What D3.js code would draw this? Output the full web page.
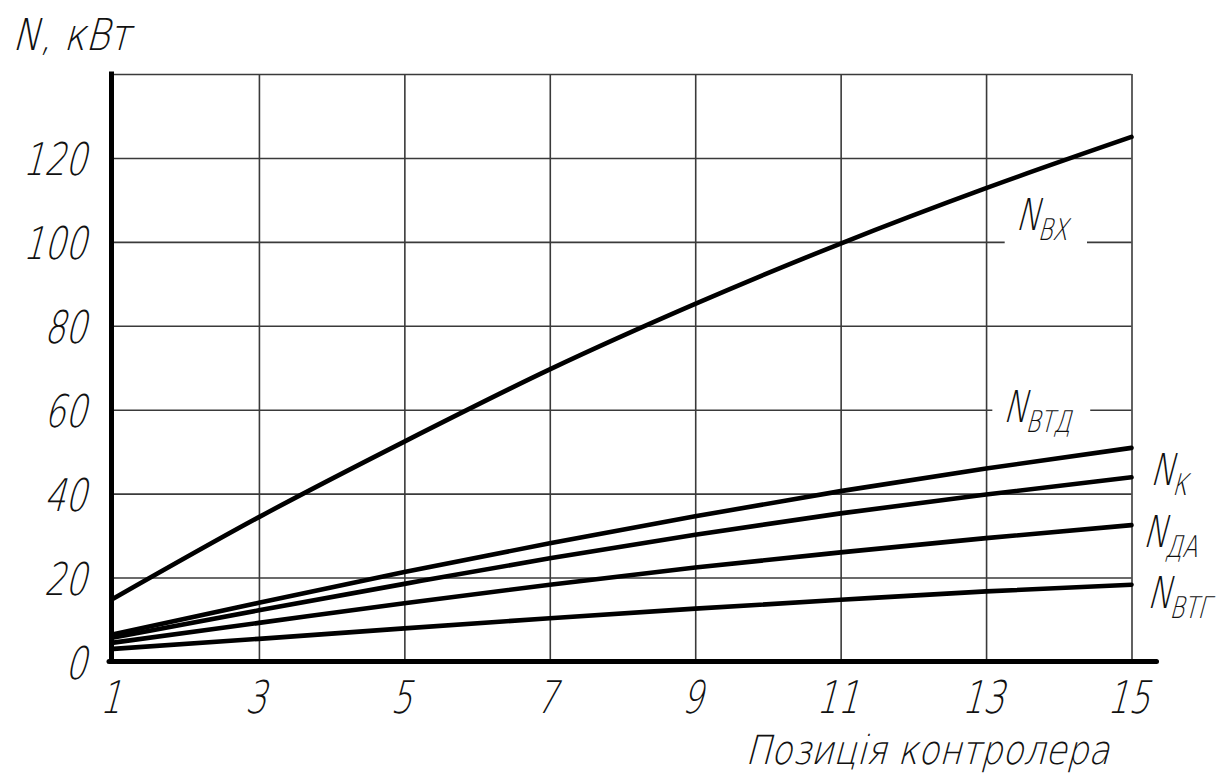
<!DOCTYPE html>
<html><head><meta charset="utf-8">
<script src="https://cdn.jsdelivr.net/npm/d3@7"></script>
<style>
html,body{margin:0;padding:0;background:#fff;}
svg{display:block;background:#fff;}
text{font-family:"DejaVu Sans","Liberation Sans",sans-serif;font-weight:200;fill:#111;}
</style></head><body>
<svg id="chart" width="1220" height="776"></svg>
<script>
// Controller positions and power curves, kW
const positions = [1, 3, 5, 7, 9, 11, 13, 15];
const nVx  = [15, 34.4, 52.4, 69.6, 85.2, 99.6, 112.8, 125];
const nVtd = [6.5, 14, 21.3, 28.2, 34.6, 40.6, 46, 50.9];
const nK   = [5.7, 12.2, 18.5, 24.6, 30.2, 35.3, 39.8, 43.9];
const nDa  = [4.5, 9.2, 13.9, 18.3, 22.4, 26, 29.4, 32.5];
const nVtg = [3, 5.4, 7.9, 10.3, 12.6, 14.7, 16.7, 18.3];
const seriesNames = ["ВХ", "ВТД", "К", "ДА", "ВТГ"];
const xTicks = [1, 3, 5, 7, 9, 11, 13, 15];
const yTicks = [0, 20, 40, 60, 80, 100, 120];
const yGrid = [20, 40, 60, 80, 100, 120, 140];

// label anchors in data units (position, kW) and whether they cut a grid line
const labelLayout = [
  {x: 13.40, y: 102.8, knock: true},
  {x: 13.23, y: 57.15, knock: true},
  {x: 15.25, y: 42.06},
  {x: 15.15, y: 27.29},
  {x: 15.21, y: 12.75}
];

const SX = 0.74;       // horizontal condensing of the drafting lettering
const SKEW = -15;      // slant of the lettering

const svg = d3.select("#chart");
const x = d3.scaleLinear().domain([1, 15]).range([113.5, 1131.5]);
const y = d3.scaleLinear().domain([0, 140]).range([661.5, 74]);
const axisX = 111.5;

function slant(px, py, sx) {
  return `translate(${px},${py}) skewX(${SKEW}) scale(${sx || SX},1)`;
}

// grid
const grid = svg.append("g");
grid.append("g")
  .attr("transform", `translate(0,${y(0)})`)
  .call(d3.axisBottom(x).tickValues(xTicks.slice(1)).tickSize(-(y(0) - y(140))).tickFormat(""))
  .call(g => g.select(".domain").remove());
grid.append("g")
  .attr("transform", `translate(${axisX},0)`)
  .call(d3.axisLeft(y).tickValues(yGrid).tickSize(-(x(15) - axisX)).tickFormat(""))
  .call(g => g.select(".domain").remove());
grid.selectAll("line").attr("stroke", "#3a3a3a").attr("stroke-width", 1.6);

// curves
const series = [nVx, nVtd, nK, nDa, nVtg];
const line = d3.line().x((d, i) => x(positions[i])).y(d => y(d)).curve(d3.curveMonotoneX);
svg.append("g").selectAll("path").data(series).join("path")
  .attr("d", line)
  .attr("fill", "none").attr("stroke", "#000")
  .attr("stroke-width", 4.6).attr("stroke-linecap", "round").attr("stroke-linejoin", "round");

// heavy axes
svg.append("line").attr("x1", axisX).attr("x2", axisX).attr("y1", y(140) - 2.5).attr("y2", y(0) + 2)
  .attr("stroke", "#000").attr("stroke-width", 5);
svg.append("line").attr("x1", axisX - 2.5).attr("x2", x(15) + 25).attr("y1", y(0)).attr("y2", y(0))
  .attr("stroke", "#000").attr("stroke-width", 5).attr("stroke-linecap", "round");

// tick labels
const yAxis = svg.append("g").attr("transform", `translate(${axisX},0)`)
  .call(d3.axisLeft(y).tickValues(yTicks).tickSize(0).tickFormat(d3.format("d")));
yAxis.select(".domain").remove();
yAxis.attr("font-family", null).attr("font-size", null);
yAxis.selectAll("text")
  .attr("x", null).attr("dy", null).attr("fill", null)
  .attr("font-size", 45).attr("text-anchor", "end")
  .attr("transform", slant(-25.5, 16.5));

const xAxis = svg.append("g").attr("transform", `translate(0,${y(0)})`)
  .call(d3.axisBottom(x).tickValues(xTicks).tickSize(0).tickFormat(d3.format("d")));
xAxis.select(".domain").remove();
xAxis.attr("font-family", null).attr("font-size", null);
xAxis.selectAll("text")
  .attr("y", null).attr("dy", null).attr("fill", null)
  .attr("font-size", 45).attr("text-anchor", "middle")
  .attr("transform", slant(-4, 51.5));

// axis titles
svg.append("text").attr("font-size", 44).attr("transform", slant(12, 50, 0.84)).text("N, кВт");
svg.append("text").attr("font-size", 40).attr("transform", slant(745, 764, 0.86)).text("Позиція контролера");

// curve labels
seriesNames.forEach((name, i) => {
  const L = labelLayout[i];
  const g = svg.append("g");
  const t = g.append("text").attr("font-size", 44).attr("transform", slant(x(L.x), y(L.y)));
  t.append("tspan").text("N");
  t.append("tspan").attr("font-size", 30).attr("dy", 10).attr("dx", 1).text(name);
  if (L.knock) {
    const b = t.node().getBoundingClientRect();
    g.insert("rect", "text")
      .attr("x", b.left - 6).attr("y", b.top).attr("width", b.width + 12).attr("height", b.height)
      .attr("fill", "#fff");
  }
});
</script>
</body></html>
